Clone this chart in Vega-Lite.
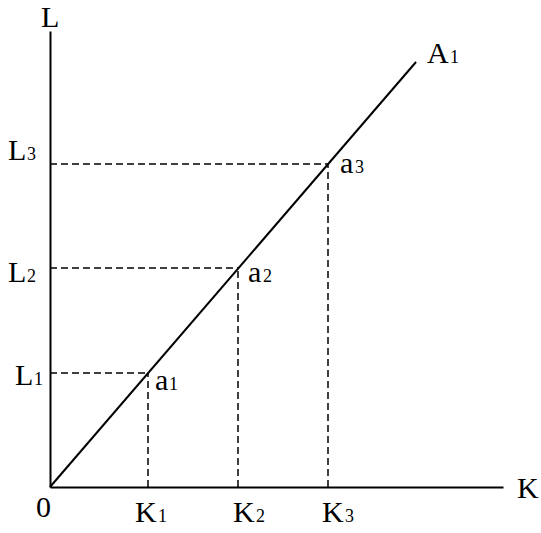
{
  "$schema": "https://vega.github.io/schema/vega-lite/v6.json",
  "width": 453,
  "height": 456,
  "autosize": {"type": "none"},
  "padding": {"left": 50, "top": 31, "right": 38, "bottom": 46},
  "background": "white",
  "config": {"view": {"stroke": null}, "text": {"font": "Times New Roman"}},
  "datasets": {
    "line": [{"k": 0, "l": 0}, {"k": 366, "l": 425}],
    "dash": [
      {"k1": 0, "l1": 114, "k2": 98, "l2": 114},
      {"k1": 0, "l1": 219, "k2": 188, "l2": 219},
      {"k1": 0, "l1": 323, "k2": 278, "l2": 323},
      {"k1": 98, "l1": 0, "k2": 98, "l2": 114},
      {"k1": 188, "l1": 0, "k2": 188, "l2": 219},
      {"k1": 278, "l1": 0, "k2": 278, "l2": 323}
    ],
    "main": [
      {"k": -9, "l": 460, "t": "L"},
      {"k": -35, "l": 102, "t": "L"},
      {"k": -42, "l": 205, "t": "L"},
      {"k": -42, "l": 327, "t": "L"},
      {"k": -14, "l": -30, "t": "0"},
      {"k": 85, "l": -35, "t": "K"},
      {"k": 183, "l": -35, "t": "K"},
      {"k": 272, "l": -35, "t": "K"},
      {"k": 467, "l": -11, "t": "K"},
      {"k": 377, "l": 424, "t": "A"},
      {"k": 105, "l": 97, "t": "a"},
      {"k": 198, "l": 205, "t": "a"},
      {"k": 290, "l": 314, "t": "a"}
    ],
    "subs": [
      {"k": -16, "l": 102, "t": "1"},
      {"k": -23, "l": 205, "t": "2"},
      {"k": -23, "l": 327, "t": "3"},
      {"k": 108, "l": -35, "t": "1"},
      {"k": 206, "l": -35, "t": "2"},
      {"k": 295, "l": -35, "t": "3"},
      {"k": 400, "l": 424, "t": "1"},
      {"k": 119, "l": 97, "t": "1"},
      {"k": 213, "l": 205, "t": "2"},
      {"k": 305, "l": 314, "t": "3"}
    ]
  },
  "layer": [
    {
      "data": {"name": "line"},
      "mark": {"type": "line", "strokeWidth": 2, "color": "black", "clip": false},
      "encoding": {
        "x": {"field": "k", "type": "quantitative",
          "scale": {"domain": [0, 453], "nice": false, "zero": false},
          "axis": {"domain": true, "domainColor": "black", "domainWidth": 2, "ticks": false, "labels": false, "grid": false, "title": null}},
        "y": {"field": "l", "type": "quantitative",
          "scale": {"domain": [0, 456], "nice": false, "zero": false},
          "axis": {"domain": true, "domainColor": "black", "domainWidth": 2, "ticks": false, "labels": false, "grid": false, "title": null}}
      }
    },
    {
      "data": {"name": "dash"},
      "mark": {"type": "rule", "strokeDash": [7, 4], "strokeWidth": 1.5, "color": "black"},
      "encoding": {
        "x": {"field": "k1", "type": "quantitative"},
        "x2": {"field": "k2"},
        "y": {"field": "l1", "type": "quantitative"},
        "y2": {"field": "l2"}
      }
    },
    {
      "data": {"name": "main"},
      "mark": {"type": "text", "font": "Times New Roman", "fontSize": 30, "align": "left", "baseline": "alphabetic", "color": "black", "clip": false},
      "encoding": {
        "x": {"field": "k", "type": "quantitative"},
        "y": {"field": "l", "type": "quantitative"},
        "text": {"field": "t"}
      }
    },
    {
      "data": {"name": "subs"},
      "mark": {"type": "text", "font": "Times New Roman", "fontSize": 18, "align": "left", "baseline": "alphabetic", "color": "black", "clip": false},
      "encoding": {
        "x": {"field": "k", "type": "quantitative"},
        "y": {"field": "l", "type": "quantitative"},
        "text": {"field": "t"}
      }
    }
  ]
}
